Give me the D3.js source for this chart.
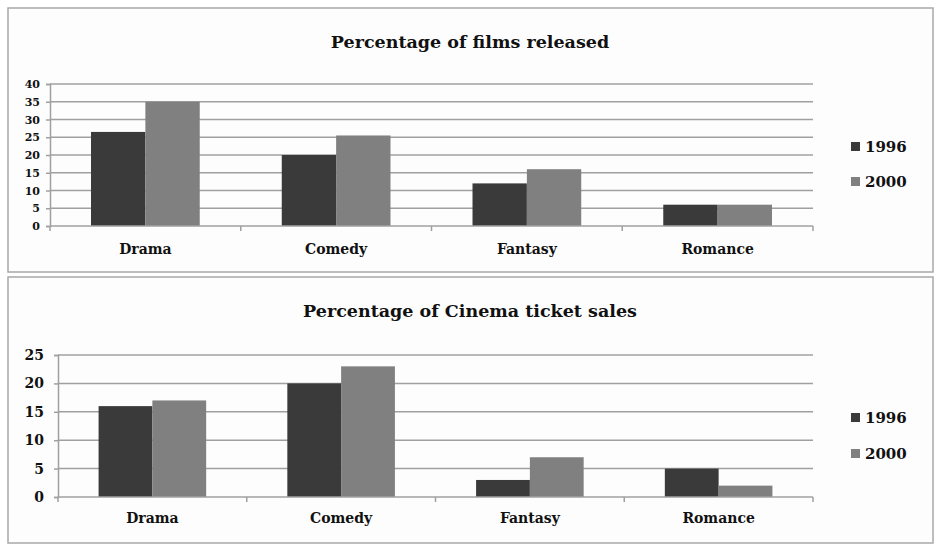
<!DOCTYPE html>
<html><head><meta charset="utf-8">
<script src="https://cdn.jsdelivr.net/npm/d3@7/dist/d3.min.js"></script>
<style>
body{margin:0;background:#fff;}
svg text{font-family:"DejaVu Serif",serif;font-weight:bold;fill:#111;}
</style></head>
<body><svg id="c" width="940" height="550"></svg>
<script>
const categories = ["Drama","Comedy","Fantasy","Romance"];
const seriesNames = ["1996","2000"];
const films1996 = [26.5,20,12,6];
const films2000 = [35,25.5,16,6];
const tickets1996 = [16,20,3,5];
const tickets2000 = [17,23,7,2];
const filmsTicks = [0,5,10,15,20,25,30,35,40];
const ticketTicks = [0,5,10,15,20,25];

const colors = ["#3a3a3a","#808080"];
const svg = d3.select("#c");

function panel(cfg){
  const g = svg.append("g");
  g.append("rect").attr("x",cfg.box[0]).attr("y",cfg.box[1])
    .attr("width",cfg.box[2]).attr("height",cfg.box[3])
    .attr("fill","#fdfdfd").attr("stroke","#a8a8a8").attr("stroke-width",1.5);
  g.append("text").attr("x",470).attr("y",cfg.titleY).attr("text-anchor","middle")
    .style("font-size",cfg.titleSize+"px").text(cfg.title);
  const x = d3.scaleBand().domain(categories).range([cfg.left,cfg.right]);
  const y = d3.scaleLinear().domain([0,d3.max(cfg.ticks)]).range([cfg.bottom,cfg.top]);
  g.selectAll(".grid").data(cfg.ticks.slice(1)).join("line")
    .attr("x1",cfg.left).attr("x2",cfg.right)
    .attr("y1",d=>y(d)).attr("y2",d=>y(d))
    .attr("stroke","#a0a0a0").attr("stroke-width",1.5);
  const barW = x.bandwidth()*0.285;
  const data = categories.map((c,i)=>({c,v:[cfg.s1[i],cfg.s2[i]]}));
  data.forEach(d=>{
    const cx = x(d.c)+x.bandwidth()/2;
    d.v.forEach((v,j)=>{
      g.append("rect").attr("x",cx-barW+j*barW).attr("width",barW)
        .attr("y",y(v)).attr("height",y(0)-y(v)).attr("fill",colors[j]);
    });
  });
  const ya = g.append("g").attr("transform",`translate(${cfg.left},0)`)
    .call(d3.axisLeft(y).tickValues(cfg.ticks).tickSize(4).tickPadding(cfg.tickPad));
  ya.select(".domain").attr("stroke","#a0a0a0").attr("stroke-width",1.5);
  ya.selectAll(".tick line").attr("stroke","#a0a0a0").attr("stroke-width",1.5);
  ya.selectAll("text").style("font-size",cfg.yFont+"px").attr("font-family",null).attr("fill","#111");
  const bounds = categories.map(c=>x(c)).concat([cfg.right]);
  g.append("line").attr("x1",cfg.left).attr("x2",cfg.right).attr("y1",y(0)).attr("y2",y(0))
    .attr("stroke","#a0a0a0").attr("stroke-width",1.5);
  g.selectAll(".xt").data(bounds).join("line")
    .attr("x1",d=>d).attr("x2",d=>d).attr("y1",y(0)).attr("y2",y(0)+5)
    .attr("stroke","#a0a0a0").attr("stroke-width",1.5);
  g.selectAll(".xl").data(categories).join("text")
    .attr("x",d=>x(d)+x.bandwidth()/2).attr("y",cfg.catY).attr("text-anchor","middle")
    .style("font-size",cfg.catSize+"px").text(d=>d);
  seriesNames.forEach((s,j)=>{
    const ly = cfg.legY[j];
    g.append("rect").attr("x",851).attr("y",ly-10).attr("width",9).attr("height",9).attr("fill",colors[j]);
    g.append("text").attr("x",865).attr("y",ly).style("font-size","15px").text(s);
  });
}

panel({box:[8,8,925,264],title:"Percentage of films released",titleY:48,titleSize:17.5,
  left:50,right:813,top:84,bottom:226,ticks:filmsTicks,s1:films1996,s2:films2000,
  yFont:11,tickPad:6,catY:254,catSize:14,legY:[152,187]});
panel({box:[8,277,925,266],title:"Percentage of Cinema ticket sales",titleY:317,titleSize:17.5,
  left:58,right:813,top:355,bottom:497,ticks:ticketTicks,s1:tickets1996,s2:tickets2000,
  yFont:14,tickPad:10,catY:523,catSize:14,legY:[423,459]});
</script></body></html>
